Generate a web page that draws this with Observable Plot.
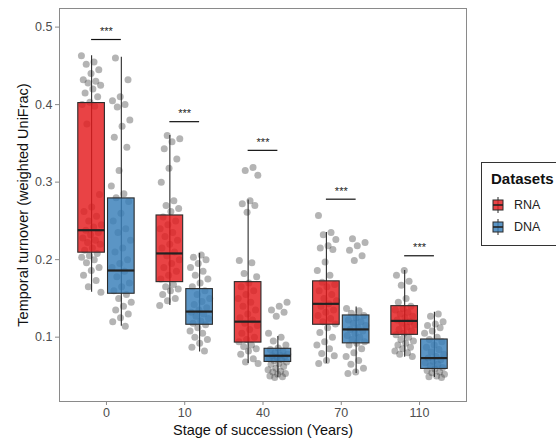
<!DOCTYPE html>
<html>
<head>
<meta charset="utf-8">
<script src="https://cdn.jsdelivr.net/npm/d3@7"></script>
<script src="https://cdn.jsdelivr.net/npm/@observablehq/plot@0.6"></script>
<style>
  html, body { margin: 0; padding: 0; background: #fff; overflow: hidden; }
  #wrap { position: relative; width: 556px; height: 441px; font-family: "Liberation Sans", Arial, sans-serif; }
  #legend { position: absolute; left: 481px; top: 162px; width: 90px; height: 84px; border: 1px solid #333; box-sizing: border-box; background: #fff; }
  #legend .title { position: absolute; left: 9px; top: 7px; font-weight: bold; font-size: 15px; color: #111; }
  #legend .item { position: absolute; left: 10px; font-size: 12.5px; color: #222; display: flex; align-items: center; }
  #legend .item svg { margin-right: 10px; }
</style>
</head>
<body>
<div id="wrap">
  <div id="chart"></div>
  <div id="legend"></div>
</div>
<script>
// ---- data ----
const stages = ["0", "10", "40", "70", "110"];
const datasets = ["RNA", "DNA"];
const colors = ["#E41A1C", "#377EB8"];

// box statistics per stage (whisker low, Q1, median, Q3, whisker high)
const rnaLow  = [0.158, 0.141, 0.066, 0.066, 0.074];
const rnaQ1   = [0.209, 0.171, 0.093, 0.116, 0.103];
const rnaMed  = [0.238, 0.208, 0.120, 0.143, 0.121];
const rnaQ3   = [0.402, 0.257, 0.171, 0.172, 0.140];
const rnaHigh = [0.463, 0.360, 0.277, 0.235, 0.186];

const dnaLow  = [0.114, 0.081, 0.048, 0.053, 0.048];
const dnaQ1   = [0.156, 0.116, 0.068, 0.092, 0.059];
const dnaMed  = [0.186, 0.133, 0.076, 0.110, 0.073];
const dnaQ3   = [0.279, 0.162, 0.085, 0.128, 0.097];
const dnaHigh = [0.461, 0.208, 0.101, 0.139, 0.132];

// significance bar heights
const sigY = [0.484, 0.378, 0.341, 0.278, 0.205];
const sigLabel = ["***", "***", "***", "***", "***"];

const rnaPoints = [
  [0.463,0.455,0.452,0.445,0.440,0.432,0.430,0.428,0.425,0.420,0.415,0.410,0.403,0.400,0.398,0.375,0.284,0.268,0.262,0.256,0.250,0.245,0.242,0.238,0.235,0.232,0.228,0.225,0.222,0.220,0.215,0.212,0.208,0.205,0.203,0.200,0.196,0.190,0.186,0.180,0.173,0.165,0.158],
  [0.360,0.356,0.352,0.343,0.330,0.318,0.300,0.276,0.270,0.266,0.262,0.255,0.250,0.245,0.240,0.235,0.230,0.225,0.220,0.215,0.210,0.205,0.200,0.195,0.190,0.185,0.180,0.175,0.168,0.165,0.162,0.160,0.155,0.150,0.147,0.141],
  [0.319,0.315,0.309,0.276,0.272,0.270,0.261,0.199,0.196,0.182,0.178,0.170,0.165,0.160,0.155,0.150,0.145,0.140,0.135,0.130,0.125,0.122,0.118,0.115,0.110,0.105,0.100,0.097,0.094,0.090,0.088,0.085,0.082,0.078,0.072,0.068,0.066],
  [0.257,0.235,0.232,0.226,0.218,0.215,0.213,0.197,0.186,0.180,0.171,0.168,0.165,0.160,0.155,0.150,0.147,0.143,0.140,0.135,0.132,0.128,0.124,0.120,0.117,0.112,0.106,0.100,0.094,0.090,0.085,0.079,0.076,0.070,0.066],
  [0.186,0.180,0.172,0.167,0.163,0.150,0.145,0.140,0.137,0.135,0.132,0.130,0.127,0.125,0.122,0.120,0.118,0.116,0.113,0.110,0.108,0.105,0.103,0.100,0.097,0.095,0.092,0.090,0.087,0.085,0.082,0.080,0.078,0.075]
];
const dnaPoints = [
  [0.460,0.432,0.410,0.405,0.400,0.397,0.380,0.372,0.358,0.345,0.315,0.295,0.285,0.280,0.275,0.260,0.250,0.240,0.235,0.225,0.215,0.210,0.200,0.195,0.190,0.185,0.178,0.170,0.165,0.160,0.155,0.150,0.145,0.140,0.135,0.130,0.125,0.120,0.114],
  [0.206,0.203,0.200,0.195,0.190,0.185,0.180,0.175,0.170,0.165,0.160,0.155,0.150,0.146,0.142,0.138,0.135,0.132,0.130,0.127,0.124,0.121,0.118,0.116,0.112,0.108,0.105,0.100,0.097,0.092,0.087,0.082],
  [0.145,0.140,0.135,0.132,0.127,0.105,0.100,0.095,0.090,0.086,0.084,0.082,0.080,0.078,0.077,0.076,0.075,0.074,0.072,0.071,0.070,0.068,0.066,0.065,0.062,0.060,0.058,0.056,0.055,0.053,0.052,0.050,0.049,0.048],
  [0.227,0.222,0.218,0.212,0.205,0.199,0.137,0.134,0.131,0.128,0.125,0.122,0.120,0.118,0.115,0.112,0.110,0.108,0.105,0.102,0.100,0.097,0.094,0.092,0.090,0.085,0.080,0.075,0.070,0.065,0.060,0.055,0.053],
  [0.130,0.127,0.120,0.117,0.115,0.112,0.108,0.105,0.100,0.097,0.094,0.090,0.087,0.084,0.081,0.078,0.075,0.073,0.071,0.069,0.067,0.065,0.063,0.061,0.059,0.057,0.055,0.054,0.052,0.050,0.049,0.048]
];

// ---- tables built from the arrays ----
const dodge = 0.19, half = 0.17, jitterWidth = 0.26;
const stats = [
  {low: rnaLow, q1: rnaQ1, med: rnaMed, q3: rnaQ3, high: rnaHigh, pts: rnaPoints},
  {low: dnaLow, q1: dnaQ1, med: dnaMed, q3: dnaQ3, high: dnaHigh, pts: dnaPoints}
];
const boxes = [];
const points = [];
stages.forEach((s, i) => {
  datasets.forEach((d, j) => {
    const st = stats[j];
    const cx = i + (j === 0 ? -dodge : dodge);
    boxes.push({stage: s, i, set: d, cx, low: st.low[i], q1: st.q1[i], med: st.med[i], q3: st.q3[i], high: st.high[i]});
    st.pts[i].forEach((v, k) => {
      // deterministic horizontal spread (no data meaning)
      const u = ((k * 0.6180339887 + i * 0.37 + j * 0.21) % 1) - 0.5;
      points.push({set: d, x: cx + u * jitterWidth, v});
    });
  });
});
const sig = stages.map((s, i) => ({i, y: sigY[i], label: sigLabel[i]}));

const chart = Plot.plot({
  width: 556,
  height: 441,
  marginLeft: 59,
  marginRight: 90,
  marginTop: 8,
  marginBottom: 40,
  style: {fontFamily: "'Liberation Sans', Arial, sans-serif", fontSize: "12px", color: "#4D4D4D", background: "#fff"},
  x: {domain: [-0.6, 4.6]},
  y: {domain: [0.017, 0.524]},
  color: {domain: datasets, range: colors},
  marks: [
    Plot.frame({stroke: "#8a8a8a", strokeWidth: 1}),
    Plot.axisX({ticks: [0, 1, 2, 3, 4], tickFormat: (t) => stages[t], tickSize: 4, tickPadding: 3, stroke: "#8a8a8a", fontSize: 12.5, color: "#4D4D4D",
      label: "Stage of succession (Years)", labelAnchor: "center", labelArrow: "none", labelOffset: 33}),
    Plot.axisY({ticks: [0.1, 0.2, 0.3, 0.4, 0.5], tickFormat: d3.format(".1f"), tickSize: 4, tickPadding: 3, stroke: "#8a8a8a", fontSize: 12.5,
      label: "Temporal turnover (weighted UniFrac)", labelAnchor: "center", labelArrow: "none", labelOffset: 42}),
    Plot.dot(points, {x: "x", y: "v", r: 3.5, fill: "#444", fillOpacity: 0.4, stroke: null}),
    Plot.ruleX(boxes, {x: "cx", y1: "low", y2: "high", stroke: "#2b2b2b", strokeWidth: 1.1}),
    Plot.rect(boxes, {x1: (d) => d.cx - half, x2: (d) => d.cx + half, y1: "q1", y2: "q3", fill: "set", fillOpacity: 0.82, stroke: "#2b2b2b", strokeWidth: 1.1}),
    Plot.ruleY(boxes, {y: "med", x1: (d) => d.cx - half, x2: (d) => d.cx + half, stroke: "#222", strokeWidth: 2.2}),
    Plot.ruleY(sig, {y: "y", x1: (d) => d.i - dodge, x2: (d) => d.i + dodge, stroke: "#111", strokeWidth: 1.2}),
    Plot.text(sig, {x: "i", y: "y", text: "label", dy: -8, fontSize: 11, fill: "#222"})
  ]
});
// axis title styling (black, larger)
chart.querySelectorAll('[aria-label="x-axis label"] text, [aria-label="y-axis label"] text').forEach((t) => {
  t.setAttribute("fill", "#111");
  t.setAttribute("font-size", "14.5px");
});
document.getElementById("chart").appendChild(chart);

// legend
const legend = document.getElementById("legend");
const title = document.createElement("div");
title.className = "title";
title.textContent = "Datasets";
legend.appendChild(title);
datasets.forEach((d, j) => {
  const item = document.createElement("div");
  item.className = "item";
  item.style.top = (34 + j * 22) + "px";
  item.innerHTML = `<svg width="12" height="16" viewBox="0 0 12 16">
    <line x1="6" y1="0" x2="6" y2="16" stroke="#2b2b2b" stroke-width="1"/>
    <rect x="1" y="3" width="10" height="10" fill="${colors[j]}" fill-opacity="0.82" stroke="#2b2b2b" stroke-width="1"/>
    <line x1="1" y1="8" x2="11" y2="8" stroke="#222" stroke-width="1.6"/>
  </svg><span>${d}</span>`;
  legend.appendChild(item);
});
</script>
</body>
</html>
